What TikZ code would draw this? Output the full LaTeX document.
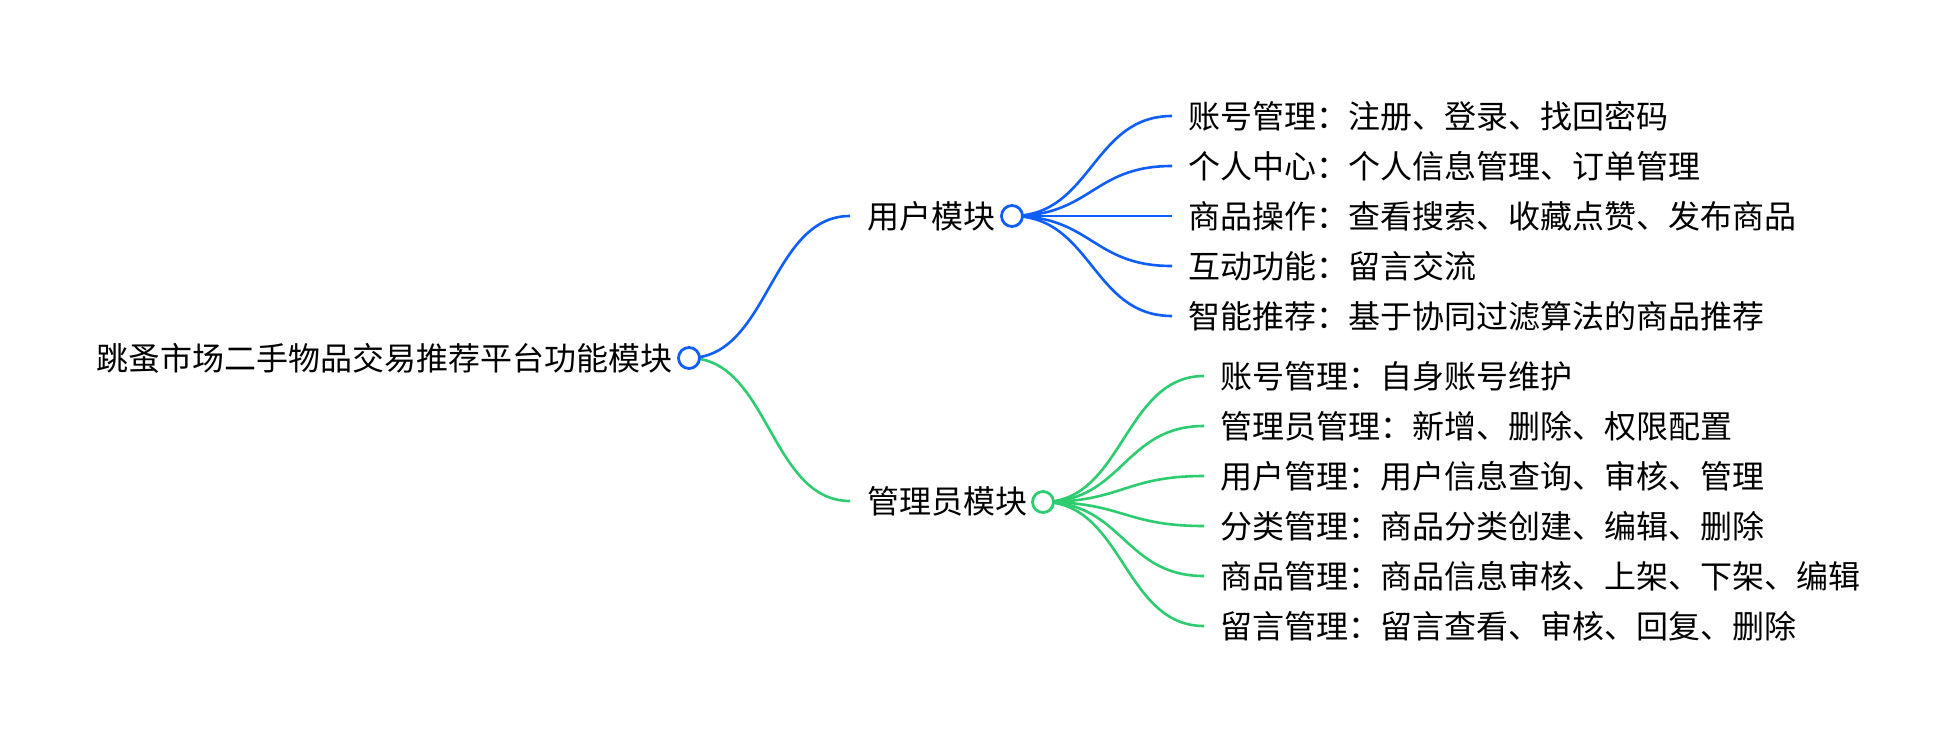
\documentclass[tikz,border=0pt]{standalone}
\usepackage{fontspec}
\newfontfamily\cjk{Noto Sans CJK SC}
\definecolor{bblue}{HTML}{0F5EF7}
\definecolor{bgreen}{HTML}{2ECC71}
\begin{document}
\begin{tikzpicture}[x=1pt,y=-1pt,
  lbl/.style={inner sep=0pt,font=\cjk\fontsize{32pt}{38pt}\selectfont,text=black,anchor=west},
  dot/.style={circle,draw=#1,line width=2.8pt,fill=white,minimum size=21pt,inner sep=0pt},
  edge/.style={draw=#1,line width=2.6pt}]
\useasboundingbox[fill=white] (0,0) rectangle (1958,742);
% nodes
\node[lbl,anchor=east] (root) at (673,358) {跳蚤市场二手物品交易推荐平台功能模块};
\coordinate (rc) at (689,358);
\node[lbl] (u) at (867,216) {用户模块};
\coordinate (uc) at (1012,216);
\node[lbl] (a) at (867,501) {管理员模块};
\coordinate (ac) at (1043,502);
% user children
\node[lbl] (u1) at (1188,116) {账号管理：注册、登录、找回密码};
\node[lbl] (u2) at (1188,166) {个人中心：个人信息管理、订单管理};
\node[lbl] (u3) at (1188,216) {商品操作：查看搜索、收藏点赞、发布商品};
\node[lbl] (u4) at (1188,266) {互动功能：留言交流};
\node[lbl] (u5) at (1188,316) {智能推荐：基于协同过滤算法的商品推荐};
% admin children
\node[lbl] (a1) at (1220,376) {账号管理：自身账号维护};
\node[lbl] (a2) at (1220,426) {管理员管理：新增、删除、权限配置};
\node[lbl] (a3) at (1220,476) {用户管理：用户信息查询、审核、管理};
\node[lbl] (a4) at (1220,526) {分类管理：商品分类创建、编辑、删除};
\node[lbl] (a5) at (1220,576) {商品管理：商品信息审核、上架、下架、编辑};
\node[lbl] (a6) at (1220,626) {留言管理：留言查看、审核、回复、删除};
% edges root
\path[edge=bblue] (rc) .. controls +(80,0) and +(-80,0) .. ([xshift=-17pt]u.west);
\path[edge=bgreen] (rc) .. controls +(80,0) and +(-80,0) .. ([xshift=-17pt]a.west);
% edges user
\foreach \n in {u1,u2,u3,u4,u5}{
  \path[edge=bblue] (uc) .. controls +(80,0) and +(-80,0) .. ([xshift=-16pt]\n.west);
}
\foreach \n in {a1,a2,a3,a4,a5,a6}{
  \path[edge=bgreen] (ac) .. controls +(80,0) and +(-80,0) .. ([xshift=-16pt]\n.west);
}
% dots
\node[dot=bblue] (rdot) at (rc) {};
\node[dot=bblue] (udot) at (uc) {};
\node[dot=bgreen] (adot) at (ac) {};
\end{tikzpicture}
\end{document}
